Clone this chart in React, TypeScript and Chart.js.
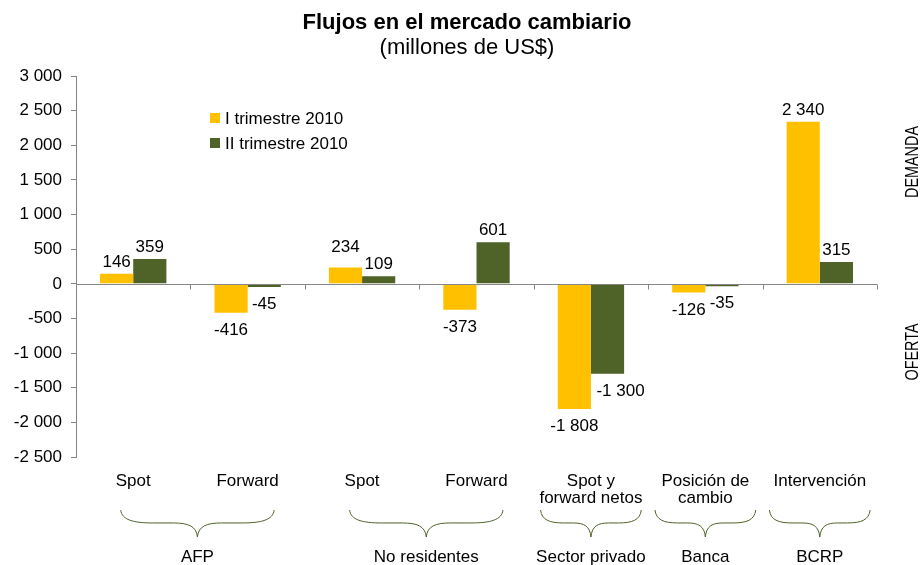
import React, { useEffect, useRef } from "react";
import { Chart, registerables } from "chart.js";

Chart.register(...registerables);

const categories: (string | string[])[] = [
  "Spot",
  "Forward",
  "Spot",
  "Forward",
  ["Spot y", "forward netos"],
  ["Posición de", "cambio"],
  "Intervención",
];
const serie1Label = "I trimestre 2010";
const serie2Label = "II trimestre 2010";
const serie1 = [146, -416, 234, -373, -1808, -126, 2340];
const serie2 = [359, -45, 109, 601, -1300, -35, 315];
const groupNames = ["AFP", "No residentes", "Sector privado", "Banca", "BCRP"];
const groupFirst = [0, 2, 4, 5, 6];
const groupLast = [1, 3, 4, 5, 6];
const yMin = -2500;
const yMax = 3000;
const yStep = 500;

const FONT = '"Liberation Sans", Arial, sans-serif';
const YELLOW = "#FFC000";
const GREEN = "#4F6228";
const AXIS = "#868686";

const fmt = (v: number) => {
  const s = Math.abs(v)
    .toString()
    .replace(/\B(?=(\d{3})+(?!\d))/g, " ");
  return (v < 0 ? "-" : "") + s;
};

// small nudges for value labels that would collide (dataset -> index -> [dx, dy])
const labelNudge: Record<number, Record<number, [number, number]>> = {
  0: { 2: [0, -9] },
  1: { 4: [13, 0] },
};

const decorPlugin = {
  id: "decor",
  afterDatasetsDraw(chart: any) {
    const { ctx, chartArea, scales } = chart;
    const y0 = scales.y.getPixelForValue(0);
    const n = categories.length;
    const catW = (chartArea.right - chartArea.left) / n;
    ctx.save();
    // zero axis line with tick marks
    ctx.strokeStyle = AXIS;
    ctx.lineWidth = 1;
    ctx.beginPath();
    ctx.moveTo(chartArea.left, Math.round(y0) + 0.5);
    ctx.lineTo(chartArea.right, Math.round(y0) + 0.5);
    for (let i = 1; i <= n; i++) {
      const x = Math.round(chartArea.left + i * catW) + 0.5;
      ctx.moveTo(x, Math.round(y0) + 0.5);
      ctx.lineTo(x, Math.round(y0) + 5.5);
    }
    ctx.stroke();

    // value labels
    ctx.fillStyle = "#000";
    ctx.font = `17px ${FONT}`;
    ctx.textAlign = "center";
    ctx.textBaseline = "alphabetic";
    chart.data.datasets.forEach((ds: any, di: number) => {
      const meta = chart.getDatasetMeta(di);
      meta.data.forEach((bar: any, i: number) => {
        const v = ds.data[i] as number;
        const nudge = (labelNudge[di] && labelNudge[di][i]) || [0, 0];
        const y = v >= 0 ? bar.y - 7 : bar.y + 22;
        ctx.fillText(fmt(v), bar.x + nudge[0], y + nudge[1]);
      });
    });
    ctx.restore();
  },
  afterDraw(chart: any) {
    const { ctx, chartArea, scales } = chart;
    const n = categories.length;
    const catW = (chartArea.right - chartArea.left) / n;
    ctx.save();
    // Title
    const cx = 467;
    ctx.fillStyle = "#000";
    ctx.textAlign = "center";
    ctx.textBaseline = "alphabetic";
    ctx.font = `bold 22px ${FONT}`;
    ctx.fillText("Flujos en el mercado cambiario", cx, 29);
    ctx.font = `22px ${FONT}`;
    ctx.fillText("(millones de US$)", cx, 54);

    // Legend
    const legendItems = [
      { label: serie1Label, color: YELLOW },
      { label: serie2Label, color: GREEN },
    ];
    ctx.textAlign = "left";
    ctx.textBaseline = "middle";
    ctx.font = `17px ${FONT}`;
    legendItems.forEach((it, k) => {
      const y = 118 + k * 25;
      ctx.fillStyle = it.color;
      ctx.fillRect(210, y - 5, 10, 10);
      ctx.fillStyle = "#000";
      ctx.fillText(it.label, 225, y + 1);
    });

    // Braces and group labels
    ctx.strokeStyle = GREEN;
    ctx.lineWidth = 1;
    const by0 = 510;
    const depth = 27;
    groupNames.forEach((name, g) => {
      const c0 = scales.x.getPixelForValue(groupFirst[g]);
      const c1 = scales.x.getPixelForValue(groupLast[g]);
      const span = groupLast[g] - groupFirst[g];
      const half = span === 0 ? 0.44 * catW : (span * 0.5 + 0.17) * catW;
      const mid = (c0 + c1) / 2 + (span === 0 ? 0 : 7);
      const L = mid - half;
      const R = mid + half;
      const y1 = by0 + depth * 0.48;
      const y2 = by0 + depth;
      const a = Math.min(32, half * 0.45);
      const b = Math.min(24, half * 0.35);
      ctx.beginPath();
      ctx.moveTo(L, by0);
      ctx.bezierCurveTo(L + 1, y1 - 3, L + a * 0.4, y1, L + a, y1);
      ctx.lineTo(mid - b, y1);
      ctx.bezierCurveTo(mid - b * 0.4, y1, mid - 1, y1 + 3, mid, y2);
      ctx.bezierCurveTo(mid + 1, y1 + 3, mid + b * 0.4, y1, mid + b, y1);
      ctx.lineTo(R - a, y1);
      ctx.bezierCurveTo(R - a * 0.4, y1, R - 1, y1 - 3, R, by0);
      ctx.stroke();
      ctx.fillStyle = "#000";
      ctx.font = `17px ${FONT}`;
      ctx.textAlign = "center";
      ctx.textBaseline = "alphabetic";
      ctx.fillText(name, mid, 562);
    });

    // DEMANDA / OFERTA
    const drawRot = (text: string, x: number, y: number) => {
      ctx.save();
      ctx.translate(x, y);
      ctx.rotate(-Math.PI / 2);
      ctx.scale(0.8, 1);
      ctx.font = `18px ${FONT}`;
      ctx.fillStyle = "#000";
      ctx.textAlign = "center";
      ctx.textBaseline = "middle";
      ctx.fillText(text, 0, 0);
      ctx.restore();
    };
    drawRot("DEMANDA", 913, 162);
    drawRot("OFERTA", 913, 352);
    ctx.restore();
  },
};

export default function App() {
  const ref = useRef<HTMLCanvasElement | null>(null);
  useEffect(() => {
    if (!ref.current) return;
    const chart = new Chart(ref.current, {
      type: "bar",
      data: {
        labels: categories,
        datasets: [
          {
            label: serie1Label,
            data: serie1,
            backgroundColor: YELLOW,
            borderWidth: 0,
            categoryPercentage: 0.58,
            barPercentage: 1,
          },
          {
            label: serie2Label,
            data: serie2,
            backgroundColor: GREEN,
            borderWidth: 0,
            categoryPercentage: 0.58,
            barPercentage: 1,
          },
        ],
      },
      options: {
        responsive: false,
        animation: false,
        layout: { padding: { left: 0, right: 47, top: 76, bottom: 0 } },
        plugins: {
          legend: { display: false },
          title: { display: false },
          tooltip: { enabled: false },
        },
        scales: {
          x: {
            grid: { display: false, drawTicks: false },
            border: { display: false },
            ticks: {
              color: "#000",
              font: { family: FONT, size: 17, lineHeight: 1.05 },
              padding: 15,
              maxRotation: 0,
              minRotation: 0,
              autoSkip: false,
            },
            afterFit: (scale: any) => {
              scale.height = 108;
            },
          },
          y: {
            min: yMin,
            max: yMax,
            ticks: {
              stepSize: yStep,
              color: "#000",
              font: { family: FONT, size: 17 },
              padding: 9,
              callback: (v: any) => fmt(Number(v)),
            },
            grid: {
              drawOnChartArea: false,
              drawTicks: true,
              tickLength: 5,
              color: AXIS,
            },
            border: { color: AXIS },
            afterFit: (scale: any) => {
              scale.width = 76;
            },
          },
        },
      },
      plugins: [decorPlugin],
    });
    return () => chart.destroy();
  }, []);
  return (
    <div style={{ position: "fixed", left: 0, top: 0, width: 924, height: 565, background: "#fff" }}>
      <canvas ref={ref} width={924} height={565} />
    </div>
  );
}
